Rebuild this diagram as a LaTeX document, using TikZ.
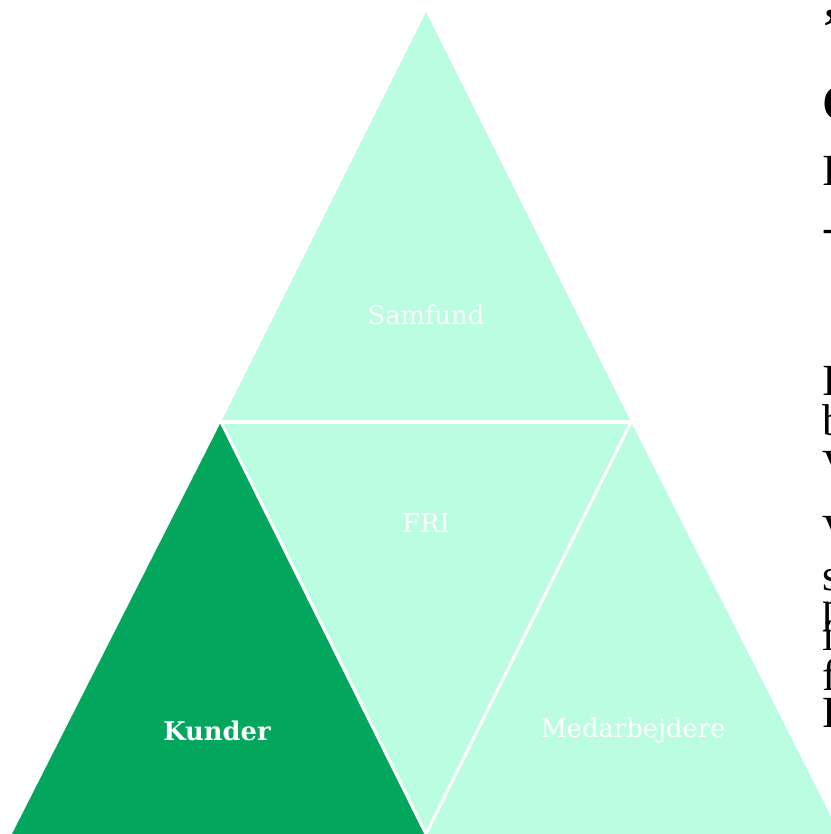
\documentclass[tikz,border=0pt]{standalone}
\usepackage{fontspec}
\setmainfont{DejaVu Serif}
\newfontfamily\sidefont{Liberation Serif}
\definecolor{mint}{HTML}{BBFDE0}
\definecolor{kundegreen}{HTML}{02A65D}
\tikzset{
  part/.style={fill=mint},
  sep/.style={draw=white, line width=2.6pt},
  lbl/.style={text=white, font=\fontsize{22}{26}\selectfont},
  side/.style={anchor=base west, inner sep=0pt, font=\sidefont\fontsize{38}{40}\selectfont}
}

\begin{document}
\begin{tikzpicture}[x=0.03cm, y=-0.03cm]
                    \useasboundingbox (0,0) rectangle (830,834);
                    \coordinate (top) at (426,12);
                    \coordinate (ml) at (221,422);
                    \coordinate (mr) at (631,422);
                    \coordinate (bl) at (12,834);
                    \coordinate (bm) at (426,834);
                    \coordinate (br) at (840,834);
                    \fill[part] (top) -- (ml) -- (mr) -- cycle;
                    \fill[part] (ml) -- (mr) -- (bm) -- cycle;
                    \fill[part] (mr) -- (bm) -- (br) -- cycle;
                    \fill[kundegreen] (ml) -- (bl) -- (bm) -- cycle;
                    \draw[sep] (ml) -- (mr);
                    \draw[sep] (ml) -- (bm) -- (mr);
                    \node[lbl] (samfund) at (426,315) {Samfund};
                    \node[lbl] (fri) at (426,523) {FRI};
                    \node[lbl, font=\fontsize{22}{26}\selectfont\bfseries] (kunder) at (217,731) {Kunder};
                    \node[lbl] (medarbejdere) at (633,731) {Medarbejdere};
                    % text cut off at the right edge
                    \node[side, font=\sidefont\fontsize{44}{46}\selectfont\bfseries] (h1) at (822,44) {’};
                    \node[side, font=\sidefont\fontsize{44}{46}\selectfont\bfseries] (h2) at (822,120) {C};
                    \node[side] (h3) at (822,185) {I};
                    \node[side] (h4) at (822,242) {-};
                    \foreach \y/\t [count=\i] in {395/I, 435/b, 480/V, 545/V, 590/s, 622/p, 650/i, 690/f, 727/P}
                      \node[side] (p\i) at (822,\y) {\t};
\end{tikzpicture}
\end{document}
